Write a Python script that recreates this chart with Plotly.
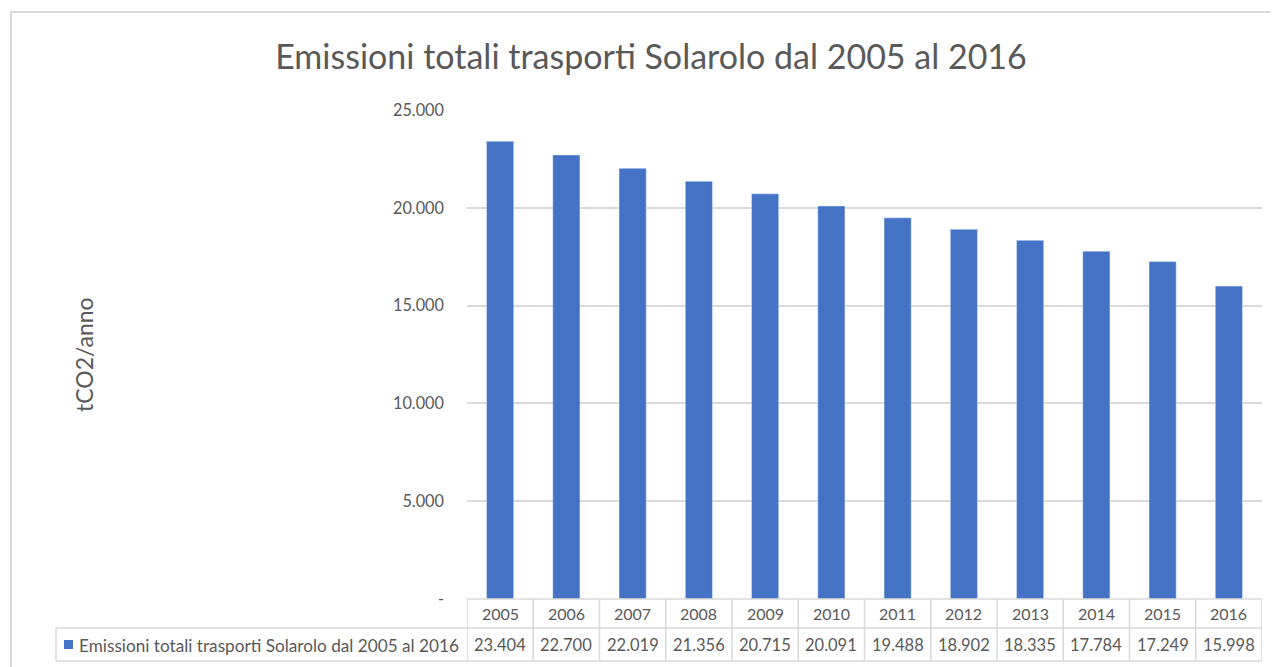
import plotly.graph_objects as go

years = ["2005", "2006", "2007", "2008", "2009", "2010", "2011", "2012", "2013", "2014", "2015", "2016"]
values = [23404, 22700, 22019, 21356, 20715, 20091, 19488, 18902, 18335, 17784, 17249, 15998]
tick_vals = [0, 5000, 10000, 15000, 20000, 25000]
tick_text = ["-", "5.000", "10.000", "15.000", "20.000", "25.000"]
series_name = "Emissioni totali trasporti Solarolo dal 2005 al 2016"
title_text = "Emissioni totali trasporti Solarolo dal 2005 al 2016"
y_title = "tCO2/anno"

W, H = 1279, 667
OFF = 8  # page body margin offset
# screen coordinates of plot area
SL, SR, ST, SB = 467, 1262, 110, 599
L, R, T, B = SL - OFF, SR - OFF, ST - OFF, SB - OFF
BLUE = "#4472C4"
GREY = "#595959"
LINE = "#D9D9D9"
FONT = "Lato, Carlito, 'Open Sans', sans-serif"

def fmt(v):
    return f"{v:,}".replace(",", ".")

def py(p):  # screen pixel y -> paper y
    return (B - (p - OFF)) / (B - T)

def px(p):  # screen pixel x -> paper x
    return ((p - OFF) - L) / (R - L)

fig = go.Figure()
fig.add_trace(go.Bar(x=list(range(len(years))), y=values, marker_color=BLUE,
                     name=series_name, showlegend=False))

shapes = []
n = len(years)
y_hdr_top, y_mid, y_bot = py(599), py(628), py(661)
for i in range(n + 1):
    shapes.append(dict(type="line", xref="x", yref="paper", x0=i - 0.5, x1=i - 0.5,
                       y0=y_hdr_top, y1=y_bot, line=dict(color=LINE, width=1.5)))
shapes.append(dict(type="line", xref="paper", yref="paper", x0=0, x1=1,
                   y0=y_hdr_top, y1=y_hdr_top, line=dict(color=LINE, width=1.5)))
for yy in (y_mid, y_bot):
    shapes.append(dict(type="line", xref="paper", yref="paper", x0=px(56), x1=1,
                       y0=yy, y1=yy, line=dict(color=LINE, width=1.5)))
shapes.append(dict(type="line", xref="paper", yref="paper", x0=px(56), x1=px(56),
                   y0=y_mid, y1=y_bot, line=dict(color=LINE, width=1.5)))
shapes.append(dict(type="rect", xref="paper", yref="paper", x0=px(64), x1=px(73),
                   y0=py(649), y1=py(640), line=dict(width=0), fillcolor=BLUE))
shapes.append(dict(type="rect", xref="paper", yref="paper", x0=px(11), x1=px(1300),
                   y0=py(700), y1=py(12), line=dict(color=LINE, width=2)))

annotations = []
for i, (yr, v) in enumerate(zip(years, values)):
    annotations.append(dict(x=i, y=py(613), xref="x", yref="paper", yanchor="middle",
                            text=yr, showarrow=False, font=dict(size=16, color=GREY, family=FONT)))
    annotations.append(dict(x=i, y=py(645), xref="x", yref="paper", yanchor="middle",
                            text=fmt(v), showarrow=False, font=dict(size=16.5, color=GREY, family=FONT)))
annotations.append(dict(x=px(77), y=py(645), xref="paper", yref="paper",
                        xanchor="left", yanchor="middle", text=series_name, showarrow=False,
                        font=dict(size=17.2, color=GREY, family=FONT)))
annotations.append(dict(x=px(68), y=py(355), xref="paper", yref="paper", text=y_title,
                        textangle=-90, showarrow=False, font=dict(size=23, color=GREY, family=FONT)))

fig.update_layout(
    width=W, height=H,
    margin=dict(l=L, r=W - R, t=T, b=H - B, pad=0),
    paper_bgcolor="white", plot_bgcolor="white",
    title=dict(text=title_text, x=(651 - OFF) / W, xanchor="center", y=1 - (57 - OFF) / H,
               yanchor="middle", font=dict(size=34, color=GREY, family=FONT)),
    bargap=0.59,
    xaxis=dict(range=[-0.5, n - 0.5], showticklabels=False, showgrid=False, zeroline=False,
               showline=False, ticks=""),
    yaxis=dict(range=[0, 25000], tickvals=tick_vals, ticktext=tick_text, showgrid=True,
               gridcolor=LINE, gridwidth=1.5, zeroline=False, showline=False, ticks="",
               ticklabelstandoff=22,
               tickfont=dict(size=16.3, color=GREY, family=FONT)),
    shapes=shapes, annotations=annotations, showlegend=False,
)

fig.write_html("out.html")
